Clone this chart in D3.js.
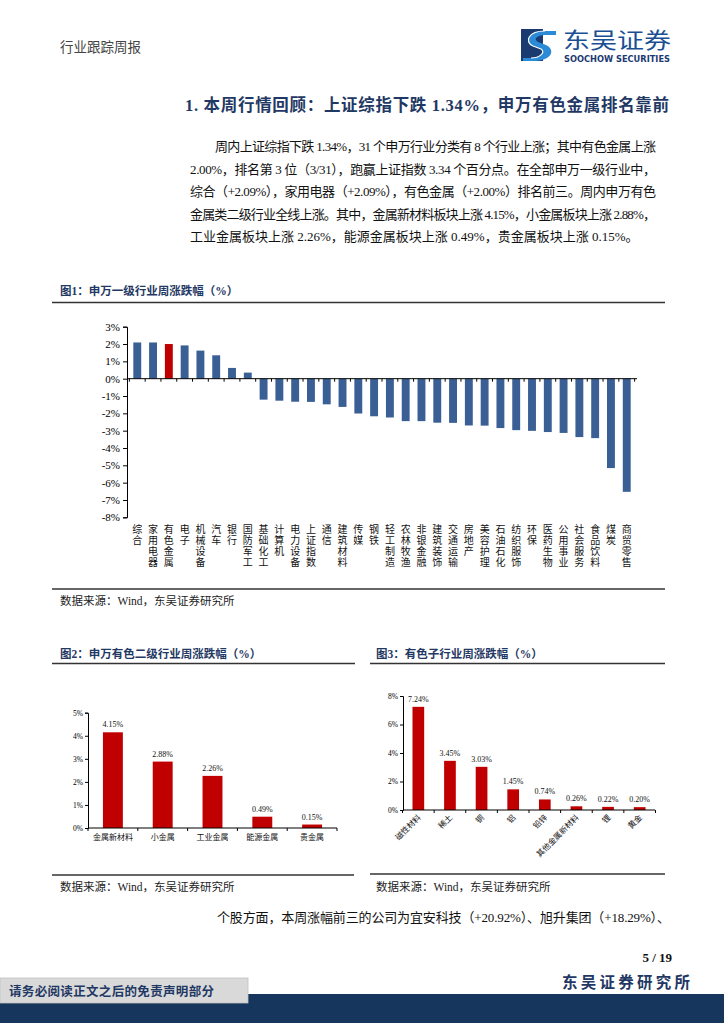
<!DOCTYPE html>
<html><head><meta charset="utf-8">
<script src="https://cdn.jsdelivr.net/npm/d3@7"></script>
<style>
html,body{margin:0;padding:0;background:#fff;}
svg{display:block;}
text{font-family:"Liberation Serif","Noto Sans CJK SC",serif;}
</style></head>
<body>
<svg id="page" width="724" height="1024"></svg>
<script>
// ---------- DATA ----------
const fig1Categories = ["综合","家用电器","有色金属","电子","机械设备","汽车","银行","国防军工","基础化工","计算机","电力设备","上证指数","通信","建筑材料","传媒","钢铁","轻工制造","农林牧渔","非银金融","建筑装饰","交通运输","房地产","美容护理","石油石化","纺织服饰","环保","医药生物","公用事业","社会服务","食品饮料","煤炭","商贸零售"];
const fig1Values = [2.09,2.09,2.00,1.92,1.62,1.35,0.62,0.35,-1.21,-1.27,-1.33,-1.34,-1.48,-1.63,-2.01,-2.17,-2.24,-2.45,-2.45,-2.54,-2.55,-2.70,-2.71,-2.85,-2.97,-3.01,-3.08,-3.13,-3.37,-3.43,-5.16,-6.53];
const fig1Highlight = "有色金属";
const fig1Ticks = [3,2,1,0,-1,-2,-3,-4,-5,-6,-7,-8];

const fig2Categories = ["金属新材料","小金属","工业金属","能源金属","贵金属"];
const fig2Values = [4.15,2.88,2.26,0.49,0.15];
const fig2Ticks = [0,1,2,3,4,5];

const fig3Categories = ["磁性材料","稀土","铜","铝","铅锌","其他金属新材料","锂","黄金"];
const fig3Values = [7.24,3.45,3.03,1.45,0.74,0.26,0.22,0.20];
const fig3Ticks = [0,2,4,6,8];

const paraLines = [
 "周内上证综指下跌 1.34%，31 个申万行业分类有 8 个行业上涨；其中有色金属上涨",
 "2.00%，排名第 3 位（3/31），跑赢上证指数 3.34 个百分点。在全部申万一级行业中，",
 "综合（+2.09%），家用电器（+2.09%），有色金属（+2.00%）排名前三。周内申万有色",
 "金属类二级行业全线上涨。其中，金属新材料板块上涨 4.15%，小金属板块上涨 2.88%，",
 "工业金属板块上涨 2.26%，能源金属板块上涨 0.49%，贵金属板块上涨 0.15%。"
];

// ---------- PAGE ----------
const svg = d3.select("#page");
const NAVY = "#1f3864";
const BLUE = "#3a5f94";
const RED = "#c00000";

svg.append("text").attr("x",60).attr("y",52).attr("font-size",13.5).attr("fill","#444").text("行业跟踪周报");

// logo
const logo = svg.append("g");
logo.append("rect").attr("x",521).attr("y",29).attr("width",22).attr("height",32).attr("fill","#1b3a70");
logo.append("path").attr("d","M545,31 C528,31 524,42 533,46 L541,49 C546,52 540,58 531,58 L523,58 L523,61 L533,61 C552,61 556,50 546,45 L538,42 C533,39 537,35 545,35 L556,35 L556,31 Z").attr("fill","#2b8bd6");
logo.append("path").attr("d","M545,31 C528,31 524,42 533,46 L541,49 C546,52 540,58 531,58").attr("fill","none").attr("stroke","#fff").attr("stroke-width",1.2);
logo.append("text").attr("x",563).attr("y",48).attr("font-size",22).attr("fill","#1b4f93")
  .style("font-family","'Noto Sans CJK SC',sans-serif").attr("textLength",108).attr("lengthAdjust","spacingAndGlyphs").text("东吴证券");
logo.append("text").attr("x",564).attr("y",61.5).attr("font-size",8).attr("font-weight","bold").attr("fill","#1b3a70")
  .style("font-family","'DejaVu Sans',sans-serif").attr("textLength",106).attr("lengthAdjust","spacingAndGlyphs").text("SOOCHOW SECURITIES");

// heading
svg.append("text").attr("x",185).attr("y",111).attr("font-size",16.5).attr("font-weight","bold").attr("fill",NAVY)
  .attr("textLength",484).text("1.  本周行情回顾：上证综指下跌 1.34%，申万有色金属排名靠前");

// paragraph
paraLines.forEach((t,i)=>{
  const x = i===0?215:190;
  const el = svg.append("text").attr("x",x).attr("y",151+i*22.6).attr("font-size",13).attr("fill","#111").text(t);
  if(i<4) el.attr("textLength",656-x).attr("lengthAdjust","spacing");
});

// ---------- helpers ----------
function figTitle(x,y,txt){
  svg.append("text").attr("x",x).attr("y",y).attr("font-size",11.5).attr("font-weight","bold").attr("fill",NAVY).text(txt);
}
function hline(x1,x2,y,w){
  svg.append("line").attr("x1",x1).attr("x2",x2).attr("y1",y).attr("y2",y).attr("stroke","#333").attr("stroke-width",w||1.6);
}
function source(x,y){
  svg.append("text").attr("x",x).attr("y",y).attr("font-size",11.5).attr("fill","#222").text("数据来源：Wind，东吴证券研究所");
}
function bandTicks(g,x,y0,len){
  const dom = x.domain();
  const pos = dom.map(d=>x(d)-x.step()*x.paddingInner()/2);
  pos.push(x(dom[dom.length-1])+x.bandwidth()+x.step()*x.paddingInner()/2);
  g.selectAll(null).data(pos).join("line").attr("x1",d=>d).attr("x2",d=>d).attr("y1",y0).attr("y2",y0+len).attr("stroke","#000").attr("stroke-width",1);
}

// ---------- FIG 1 ----------
figTitle(60,295,"图1：申万一级行业周涨跌幅（%）");
hline(52,665,302.5);
{
  const g = svg.append("g");
  const y = d3.scaleLinear().domain([-8,3]).range([517.3,326.7]);
  const x = d3.scaleBand().domain(fig1Categories).range([127,637]).paddingInner(0.5).paddingOuter(0.4);
  g.selectAll("rect").data(fig1Categories).join("rect")
    .attr("x",d=>x(d)).attr("width",x.bandwidth())
    .attr("y",(d,i)=>y(Math.max(0,fig1Values[i])))
    .attr("height",(d,i)=>Math.abs(y(fig1Values[i])-y(0)))
    .attr("fill",d=>d===fig1Highlight?RED:BLUE);
  const ya = g.append("g").attr("transform","translate(127,0)")
    .call(d3.axisLeft(y).tickValues(fig1Ticks).tickFormat(d=>d+"%").tickSize(4).tickPadding(3));
  ya.select(".domain").attr("stroke","#000");
  ya.selectAll("text").attr("font-size",11).attr("fill","#000").style("font-family","'Liberation Serif',serif");
  g.append("line").attr("x1",127).attr("x2",637).attr("y1",y(0)).attr("y2",y(0)).attr("stroke","#000");
  bandTicks(g,x,y(0),3);
  // vertical labels
  fig1Categories.forEach(c=>{
    const t = g.append("text").attr("font-size",10).attr("text-anchor","middle").attr("fill","#111");
    [...c].forEach((ch,k)=>{
      t.append("tspan").attr("x",x(c)+x.bandwidth()/2).attr("y",533+k*11).text(ch);
    });
  });
}
hline(52,665,589);
source(60,605);

// ---------- FIG 2 ----------
figTitle(60,658,"图2：申万有色二级行业周涨跌幅（%）");
hline(52,355,663.5);
{
  const g = svg.append("g");
  const y = d3.scaleLinear().domain([0,5]).range([828,712.7]);
  const x = d3.scaleBand().domain(fig2Categories).range([88,337]).paddingInner(0.6).paddingOuter(0.3);
  g.selectAll("rect").data(fig2Categories).join("rect")
    .attr("x",d=>x(d)).attr("width",x.bandwidth())
    .attr("y",(d,i)=>y(fig2Values[i])).attr("height",(d,i)=>y(0)-y(fig2Values[i])).attr("fill",RED);
  g.selectAll(".vl").data(fig2Categories).join("text")
    .attr("x",d=>x(d)+x.bandwidth()/2).attr("y",(d,i)=>y(fig2Values[i])-5)
    .attr("text-anchor","middle").attr("font-size",8).attr("fill","#111")
    .text((d,i)=>fig2Values[i].toFixed(2)+"%");
  const ya = g.append("g").attr("transform","translate(88,0)")
    .call(d3.axisLeft(y).tickValues(fig2Ticks).tickFormat(d=>d+"%").tickSize(3).tickPadding(2));
  ya.select(".domain").attr("stroke","#000");
  ya.selectAll("text").attr("font-size",7.5).attr("fill","#000");
  g.append("line").attr("x1",88).attr("x2",337).attr("y1",y(0)).attr("y2",y(0)).attr("stroke","#000");
  bandTicks(g,x,y(0),3);
  g.selectAll(".cl").data(fig2Categories).join("text")
    .attr("x",d=>x(d)+x.bandwidth()/2).attr("y",840).attr("text-anchor","middle")
    .attr("font-size",8).attr("fill","#111").text(d=>d);
}
hline(52,354,875);
source(60,891);

// ---------- FIG 3 ----------
figTitle(376,658,"图3：有色子行业周涨跌幅（%）");
hline(370,665,663.5);
{
  const g = svg.append("g");
  const y = d3.scaleLinear().domain([0,8]).range([810,696]);
  const x = d3.scaleBand().domain(fig3Categories).range([403,655]).paddingInner(0.63).paddingOuter(0.3);
  g.selectAll("rect").data(fig3Categories).join("rect")
    .attr("x",d=>x(d)).attr("width",x.bandwidth())
    .attr("y",(d,i)=>y(fig3Values[i])).attr("height",(d,i)=>y(0)-y(fig3Values[i])).attr("fill",RED);
  g.selectAll(".vl").data(fig3Categories).join("text")
    .attr("x",d=>x(d)+x.bandwidth()/2).attr("y",(d,i)=>y(fig3Values[i])-5)
    .attr("text-anchor","middle").attr("font-size",8).attr("fill","#111")
    .text((d,i)=>fig3Values[i].toFixed(2)+"%");
  const ya = g.append("g").attr("transform","translate(403,0)")
    .call(d3.axisLeft(y).tickValues(fig3Ticks).tickFormat(d=>d+"%").tickSize(3).tickPadding(2));
  ya.select(".domain").attr("stroke","#000");
  ya.selectAll("text").attr("font-size",7.5).attr("fill","#000");
  g.append("line").attr("x1",403).attr("x2",655).attr("y1",y(0)).attr("y2",y(0)).attr("stroke","#000");
  bandTicks(g,x,y(0),3);
  g.selectAll(".cl").data(fig3Categories).join("text")
    .attr("transform",d=>`translate(${x(d)+x.bandwidth()/2+3},${y(0)+8}) rotate(-45)`)
    .attr("text-anchor","end").attr("font-size",8).attr("fill","#111").text(d=>d);
}
hline(370,665,874);
source(376,891);

// ---------- footer ----------
svg.append("text").attr("x",217).attr("y",922).attr("font-size",13).attr("fill","#111")
  .attr("textLength",453).attr("lengthAdjust","spacing")
  .text("个股方面，本周涨幅前三的公司为宜安科技（+20.92%）、旭升集团（+18.29%）、");
svg.append("text").attr("x",672).attr("y",962).attr("text-anchor","end").attr("font-size",13).attr("font-weight","bold").attr("fill","#111").text("5 / 19");
svg.append("text").attr("x",562).attr("y",988).attr("font-size",15.5).attr("font-weight","bold").attr("fill",NAVY).attr("textLength",128).text("东吴证券研究所");
svg.append("rect").attr("x",0).attr("y",994).attr("width",724).attr("height",29).attr("fill","#17365d");
svg.append("rect").attr("x",0).attr("y",978).attr("width",248).attr("height",25).attr("fill","#d9d9d9").attr("stroke","#c0c0c0").attr("stroke-width",0.8);
svg.append("text").attr("x",9).attr("y",996).attr("font-size",12.5).attr("font-weight","bold").attr("fill",NAVY).attr("textLength",205).text("请务必阅读正文之后的免责声明部分");
</script>
</body></html>
